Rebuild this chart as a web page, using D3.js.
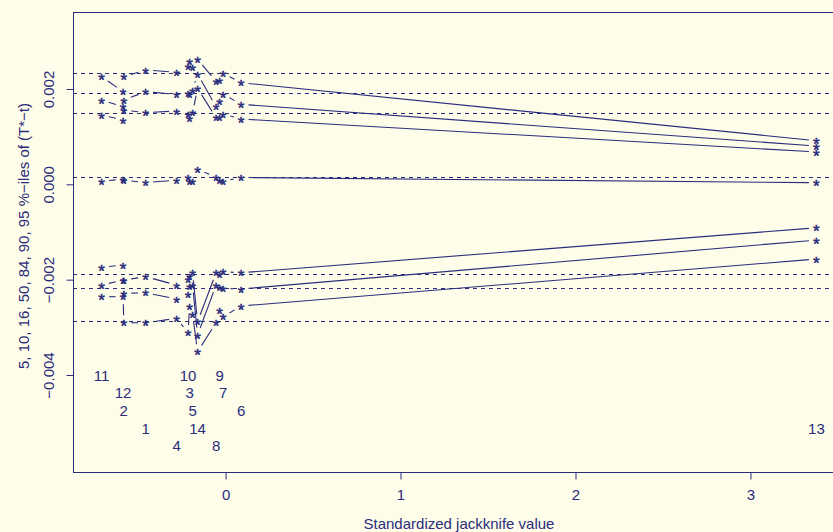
<!DOCTYPE html>
<html>
<head>
<meta charset="utf-8">
<script src="https://cdn.jsdelivr.net/npm/d3@7"></script>
<style>
  body { margin: 0; background: #fdfde9; }
  svg { display: block; font-family: "Liberation Sans", Arial, sans-serif; }
</style>
</head>
<body>
<script>
var w = 833;
var h = 532;
var ink = "#2b2c7c";
var bg = "#fdfde9";

// observations, sorted by standardized jackknife value
var obsLabels = [11, 12, 2, 1, 4, 10, 3, 5, 14, 8, 9, 7, 6, 13];
var jackValues = [-0.7086, -0.5857, -0.5817, -0.4571, -0.28, -0.2143, -0.2057, -0.1886, -0.16, -0.0543, -0.0343, -0.0143, 0.0886, 3.377];

// percentiles of (T* - t) with each observation left out
var pct95 = [0.002257, 0.001943, 0.002257, 0.002398, 0.00235, 0.002467, 0.002572, 0.002446, 0.002629, 0.002152, 0.002188, 0.002329, 0.002131, 0.000915];
var pct90 = [0.001769, 0.001628, 0.001769, 0.001943, 0.001888, 0.001909, 0.001888, 0.001978, 0.002314, 0.001628, 0.001748, 0.001894, 0.001678, 0.000803];
var pct84 = [0.001454, 0.001349, 0.001559, 0.001502, 0.001538, 0.001475, 0.001385, 0.001502, 0.002014, 0.001397, 0.001397, 0.001475, 0.00137, 0.000678];
var pct50 = [0.000069, 0.000105, 0.00009, 0.000034, 0.00009, 0.000147, 0.000055, 0.000055, 0.000315, 0.000147, 0.00009, 0.000069, 0.000143, 0.000034];
var pct16 = [-0.001741, -0.001693, -0.002008, -0.001938, -0.002113, -0.001993, -0.001938, -0.001855, -0.002883, -0.001855, -0.001882, -0.001834, -0.001855, -0.000911];
var pct10 = [-0.002113, -0.002008, -0.002287, -0.002274, -0.002406, -0.002308, -0.002148, -0.002113, -0.003162, -0.002113, -0.002161, -0.002182, -0.002196, -0.001169];
var pct5 = [-0.002358, -0.002358, -0.002904, -0.002904, -0.002811, -0.003113, -0.002553, -0.002721, -0.003512, -0.002904, -0.002637, -0.002778, -0.002553, -0.001567];

// percentiles from the full bootstrap (dashed reference lines)
var refPercentiles = [0.002329, 0.001909, 0.001496, 0.000159, -0.001882, -0.002182, -0.002874];

// heights of the observation number labels, cycling in x order
var labelLevels = [-0.004022, -0.004378, -0.004756, -0.005133, -0.00549];

var xTicks = [0, 1, 2, 3];
var yTicks = [-0.004, -0.002, 0, 0.002];
var yLimits = [-0.006035, 0.003615];

var xLabel = "Standardized jackknife value";
var yLabel = "5, 10, 16, 50, 84, 90, 95 %\u2212iles of (T*\u2212t)";

var boxL = 73, boxT = 12, boxB = 472, boxR = 845;
var gap = 7.5;

// Create scales
var xExt = d3.extent(jackValues);
var xPad = (xExt[1] - xExt[0]) * 0.04;
var xScale = d3.scaleLinear().domain([xExt[0] - xPad, xExt[1] + xPad]).range([boxL, boxR]);
var yScale = d3.scaleLinear().domain(yLimits).range([boxB, boxT]);

var fmtY = function (d) {
  return d3.format(".3f")(d).replace("-", "\u2212");
};

var svg = d3.select("body").append("svg").attr("width", w).attr("height", h);
svg.append("rect").attr("width", w).attr("height", h).attr("fill", bg);

// dashed reference lines
svg
  .selectAll("line.ref")
  .data(refPercentiles)
  .enter()
  .append("line")
  .attr("class", "ref")
  .attr("x1", boxL)
  .attr("x2", boxR)
  .attr("y1", function (d) { return Math.round(yScale(d)) + 0.5; })
  .attr("y2", function (d) { return Math.round(yScale(d)) + 0.5; })
  .attr("stroke", ink)
  .attr("stroke-width", 1)
  .attr("stroke-dasharray", "4,4");

// lines joining the stars (type "b": gaps round each point)
var series = [pct95, pct90, pct84, pct50, pct16, pct10, pct5];
var segs = [];
series.forEach(function (vals) {
  for (let i = 1; i < vals.length; i++) {
    var x0 = xScale(jackValues[i - 1]), y0 = yScale(vals[i - 1]);
    var x1 = xScale(jackValues[i]), y1 = yScale(vals[i]);
    var dx = x1 - x0, dy = y1 - y0, d = Math.hypot(dx, dy);
    if (d > 2 * gap) {
      segs.push([x0 + gap * dx / d, y0 + gap * dy / d, x1 - gap * dx / d, y1 - gap * dy / d]);
    }
  }
});

svg
  .selectAll("line.seg")
  .data(segs)
  .enter()
  .append("line")
  .attr("class", "seg")
  .attr("x1", function (d) { return d[0]; })
  .attr("y1", function (d) { return d[1]; })
  .attr("x2", function (d) { return d[2]; })
  .attr("y2", function (d) { return d[3]; })
  .attr("stroke", ink)
  .attr("stroke-width", 1.1);

// stars
var points = [];
series.forEach(function (vals) {
  vals.forEach(function (v, i) {
    points.push([jackValues[i], v]);
  });
});

svg
  .selectAll("text.star")
  .data(points)
  .enter()
  .append("text")
  .attr("class", "star")
  .attr("x", function (d) { return xScale(d[0]); })
  .attr("y", function (d) { return yScale(d[1]) + 9.6; })
  .attr("text-anchor", "middle")
  .attr("font-size", 17)
  .attr("fill", ink)
  .attr("stroke", ink)
  .attr("stroke-width", 0.5)
  .text("*");

// observation numbers
svg
  .selectAll("text.obs")
  .data(obsLabels)
  .enter()
  .append("text")
  .attr("class", "obs")
  .attr("x", function (d, i) { return xScale(jackValues[i]); })
  .attr("y", function (d, i) { return yScale(labelLevels[i % labelLevels.length]); })
  .attr("dy", "0.36em")
  .attr("text-anchor", "middle")
  .attr("font-size", 15)
  .attr("fill", ink)
  .text(function (d) { return d; });

// box
svg
  .append("rect")
  .attr("x", boxL + 0.5)
  .attr("y", boxT + 0.5)
  .attr("width", boxR - boxL)
  .attr("height", boxB - boxT)
  .attr("fill", "none")
  .attr("stroke", ink)
  .attr("stroke-width", 1);

// Create axis
var xAxis = d3.axisBottom(xScale).tickValues(xTicks).tickSize(7).tickPadding(3).tickFormat(d3.format("d"));
var yAxis = d3.axisLeft(yScale).tickValues(yTicks).tickSize(7).tickFormat(fmtY);

var gx = svg.append("g").attr("transform", `translate(0,${boxB + 0.5})`).call(xAxis);
gx.select(".domain").remove();
gx.selectAll("line").attr("stroke", ink);
gx.selectAll("text")
  .attr("y", 27)
  .attr("dy", null)
  .attr("fill", ink)
  .attr("font-size", 15)
  .attr("font-family", null);

var gy = svg.append("g").attr("transform", `translate(${boxL + 0.5},0)`).call(yAxis);
gy.select(".domain").remove();
gy.selectAll("line").attr("stroke", ink);
gy.selectAll("text")
  .attr("x", 0)
  .attr("y", -20)
  .attr("dy", null)
  .attr("text-anchor", "middle")
  .attr("transform", "rotate(-90)")
  .attr("fill", ink)
  .attr("font-size", 15)
  .attr("font-family", null);

// axis titles
svg
  .append("text")
  .attr("x", (boxL + boxR) / 2)
  .attr("y", 529)
  .attr("text-anchor", "middle")
  .attr("font-size", 15)
  .attr("fill", ink)
  .text(xLabel);

svg
  .append("text")
  .attr("transform", `translate(29,${(boxT + boxB) / 2 - 6}) rotate(-90)`)
  .attr("text-anchor", "middle")
  .attr("font-size", 15)
  .attr("fill", ink)
  .text(yLabel);
</script>
</body>
</html>
